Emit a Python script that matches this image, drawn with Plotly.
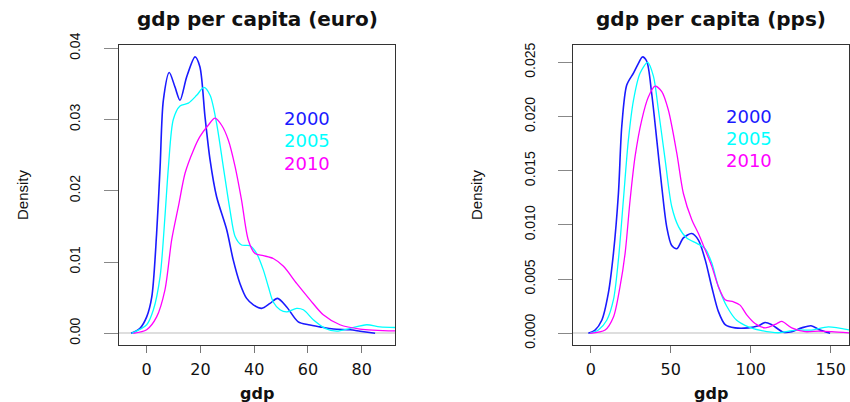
import plotly.graph_objects as go

# ---- data (density estimates) ----
years = ["2000", "2005", "2010"]
colors = ["#1a1aff", "#00ffff", "#ff00ff"]
widths = [1.6, 1.3, 1.3]

euro_x_2000 = [-5.8, -2.5, 0, 1.9, 3.7, 5, 6.2, 8.4, 10.5, 12.4, 14.9, 18, 19.8, 21.7, 23.6, 26, 29.8, 32.2, 34.7, 37.2, 39.7, 42.8, 45.9, 48.7, 52.1, 56.4, 60.2, 64.5, 69.5, 75.7, 79.4, 85]
euro_y_2000 = [0, 0.0007, 0.0023, 0.0051, 0.014, 0.0234, 0.0327, 0.0366, 0.0346, 0.0327, 0.036, 0.0388, 0.0374, 0.0304, 0.0243, 0.0192, 0.0145, 0.0103, 0.0070, 0.0049, 0.0040, 0.0035, 0.0042, 0.0049, 0.0037, 0.0016, 0.0012, 0.0009, 0.0006, 0.0005, 0.0003, 0.0]

euro_x_2005 = [-5.6, 0, 2.5, 5, 6.8, 8.1, 9.9, 12.4, 15.5, 18.6, 21.3, 23.6, 26, 28.5, 31, 32.9, 35.3, 38.4, 40.9, 43.4, 45.3, 47.1, 49.6, 52.1, 55.8, 58.3, 62, 66.4, 70.7, 75.7, 81.9, 86.8, 95]
euro_y_2005 = [0, 0.0012, 0.0033, 0.008, 0.0164, 0.0234, 0.030, 0.0319, 0.0323, 0.0334, 0.0345, 0.0334, 0.0295, 0.0234, 0.0173, 0.0136, 0.0124, 0.0123, 0.0112, 0.0089, 0.0065, 0.0044, 0.0033, 0.0030, 0.0035, 0.0033, 0.0019, 0.0007, 0.0003, 0.0007, 0.0012, 0.0009, 0.0008]

euro_x_2010 = [-5, 0, 3.7, 6.8, 9.3, 11.8, 14.3, 17.4, 19.8, 22.9, 25.4, 27.9, 30.4, 32.9, 35.3, 37.8, 40.3, 43.4, 47.1, 50.9, 55.8, 60.8, 65.7, 71.9, 79.4, 95]
euro_y_2010 = [0, 0.0005, 0.0023, 0.0061, 0.0131, 0.0178, 0.0225, 0.0257, 0.0276, 0.0292, 0.0302, 0.0292, 0.0271, 0.0234, 0.0187, 0.0131, 0.0112, 0.0109, 0.0105, 0.0094, 0.0070, 0.0047, 0.0026, 0.0012, 0.0006, 0.0003]

pps_x_2000 = [-1.5, 2.7, 6.9, 11, 14.2, 17.3, 19.4, 22.5, 26.7, 29.8, 32.3, 35, 38.1, 41.3, 44.4, 47.5, 50.6, 53.8, 57.9, 63.1, 67.3, 71.5, 75.6, 79.8, 84, 90.2, 98.5, 104.8, 109, 113, 120.4, 125.6, 131.9, 137.7, 143.3, 149.6]
pps_y_2000 = [0, 0.0003, 0.0012, 0.0037, 0.0074, 0.0129, 0.0191, 0.0229, 0.0240, 0.0249, 0.0255, 0.0251, 0.0221, 0.0178, 0.0135, 0.0098, 0.0081, 0.0078, 0.0088, 0.0092, 0.0086, 0.0068, 0.0043, 0.0020, 0.0008, 0.0005, 0.0005, 0.0007, 0.0010, 0.0008, 0.0001, 0.00015, 0.0005, 0.0007, 0.0003, 0.0]

pps_x_2005 = [-0.4, 4.8, 10, 14.2, 17.3, 20.4, 23.5, 26.7, 30.8, 35.6, 39.2, 42.3, 46.5, 50.6, 55, 60, 66.3, 71.5, 75.6, 79.8, 85, 91.2, 98.5, 106.9, 117.3, 127.7, 138.1, 148.5, 165]
pps_y_2005 = [0, 0.0003, 0.0012, 0.0031, 0.0068, 0.0123, 0.0178, 0.0215, 0.0240, 0.0250, 0.0237, 0.0206, 0.0160, 0.0117, 0.0098, 0.0088, 0.0083, 0.0078, 0.0065, 0.0043, 0.0025, 0.0012, 0.0006, 0.00025, 0.00005, 0.0003, 0.0003, 0.0006, 0.0002]

pps_x_2010 = [-0.4, 9, 14.2, 18.3, 21.5, 24.6, 27.7, 31.9, 36, 40.2, 44.4, 48.5, 53.8, 57.9, 63.1, 67.3, 71.5, 75.6, 79.8, 84, 89.2, 93.3, 97.5, 102.7, 109, 116.3, 119.4, 125.6, 134, 142.3, 150.6, 165]
pps_y_2010 = [0, 0.0003, 0.0015, 0.0043, 0.0074, 0.0123, 0.0163, 0.0197, 0.0218, 0.0228, 0.0223, 0.0206, 0.0166, 0.0129, 0.0105, 0.0092, 0.0077, 0.0062, 0.0043, 0.0031, 0.0029, 0.0026, 0.0017, 0.0009, 0.0005, 0.0009, 0.0011, 0.0005, 0.00015, 0.0002, 0.00015, 0.0]

euro_ticks = [0, 20, 40, 60, 80]
pps_ticks = [0, 50, 100, 150]
euro_yticks = [0.00, 0.01, 0.02, 0.03, 0.04]
pps_yticks = [0.000, 0.005, 0.010, 0.015, 0.020, 0.025]

titles = ["gdp per capita (euro)", "gdp per capita (pps)"]
xlabel = "gdp"
ylabel = "Density"

W, H = 850, 402
def px(x): return x / W
def py(y): return 1 - y / H

fig = go.Figure()
euro = [(euro_x_2000, euro_y_2000), (euro_x_2005, euro_y_2005), (euro_x_2010, euro_y_2010)]
pps = [(pps_x_2000, pps_y_2000), (pps_x_2005, pps_y_2005), (pps_x_2010, pps_y_2010)]
for i, (xs, ys) in enumerate(euro):
    fig.add_trace(go.Scatter(x=xs, y=ys, mode="lines", name=years[i], xaxis="x", yaxis="y",
                             line=dict(color=colors[i], width=widths[i], shape="spline", smoothing=0.8),
                             showlegend=False))
for i, (xs, ys) in enumerate(pps):
    fig.add_trace(go.Scatter(x=xs, y=ys, mode="lines", name=years[i], xaxis="x2", yaxis="y2",
                             line=dict(color=colors[i], width=widths[i], shape="spline", smoothing=0.8),
                             showlegend=False))

tick_font = dict(family="DejaVu Sans", size=16, color="#111")
ytick_font = dict(family="Liberation Sans Narrow, Liberation Sans", size=14, color="#111")
common_x = dict(showline=True, mirror=True, linecolor="#333", linewidth=1.2, showgrid=False,
                zeroline=False, ticks="outside", ticklen=7, tickcolor="#777", tickwidth=1,
                tickfont=tick_font, ticklabelstandoff=3)
common_y = dict(showline=True, mirror=True, linecolor="#333", linewidth=1.2, showgrid=False,
                zeroline=True, zerolinecolor="#dedede", zerolinewidth=2,
                ticks="outside", ticklen=14, tickcolor="#888", tickwidth=1,
                tickfont=ytick_font, tickangle=-90, ticklabelstandoff=18)

ydom = [py(345), py(45)]
fig.update_layout(
    width=W, height=H, margin=dict(l=0, r=0, t=0, b=0, autoexpand=False),
    paper_bgcolor="white", plot_bgcolor="white",
    xaxis=dict(domain=[px(119), px(395)], range=[-10.3, 92.4], tickvals=euro_ticks, anchor="y", **common_x),
    yaxis=dict(domain=ydom, range=[-0.00164, 0.04046], tickvals=euro_yticks, tickformat=".2f", anchor="x", **common_y),
    xaxis2=dict(domain=[px(573.3), px(849)], range=[-10.9, 161.4], tickvals=pps_ticks, anchor="y2", **common_x),
    yaxis2=dict(domain=ydom, range=[-0.00108, 0.0266], tickvals=pps_yticks, tickformat=".3f", anchor="x2", **common_y),
)

ann = []
title_font = dict(family="DejaVu Sans", size=20, color="#111", weight="bold")
lab_font = dict(family="DejaVu Sans", size=16, color="#111", weight="bold")
dens_font = dict(family="Liberation Sans Narrow, Liberation Sans", size=15, color="#111")
for cx, t in [(257, titles[0]), (711, titles[1])]:
    ann.append(dict(text=t, x=px(cx), y=py(19), xref="paper", yref="paper", showarrow=False,
                    xanchor="center", yanchor="middle", font=title_font))
for cx in [257, 711]:
    ann.append(dict(text=xlabel, x=px(cx), y=py(393), xref="paper", yref="paper", showarrow=False,
                    xanchor="center", yanchor="middle", font=lab_font))
for cx in [23, 477]:
    ann.append(dict(text=ylabel, x=px(cx), y=py(195), xref="paper", yref="paper", showarrow=False,
                    xanchor="center", yanchor="middle", textangle=-90, font=dens_font))
leg_left = [0.0301, 0.0270, 0.0239]
leg_right = [0.0200, 0.0180, 0.01596]
for i in range(3):
    ann.append(dict(text=years[i], x=50.3, y=leg_left[i], xref="x", yref="y", showarrow=False,
                    xanchor="left", yanchor="middle",
                    font=dict(family="DejaVu Sans", size=18, color=colors[i])))
    ann.append(dict(text=years[i], x=83.5, y=leg_right[i], xref="x2", yref="y2", showarrow=False,
                    xanchor="left", yanchor="middle",
                    font=dict(family="DejaVu Sans", size=18, color=colors[i])))
fig.update_layout(annotations=ann)

fig.write_html("out.html", config={"displayModeBar": False},
               post_script="document.body.style.margin='0';document.body.style.overflow='hidden';")
